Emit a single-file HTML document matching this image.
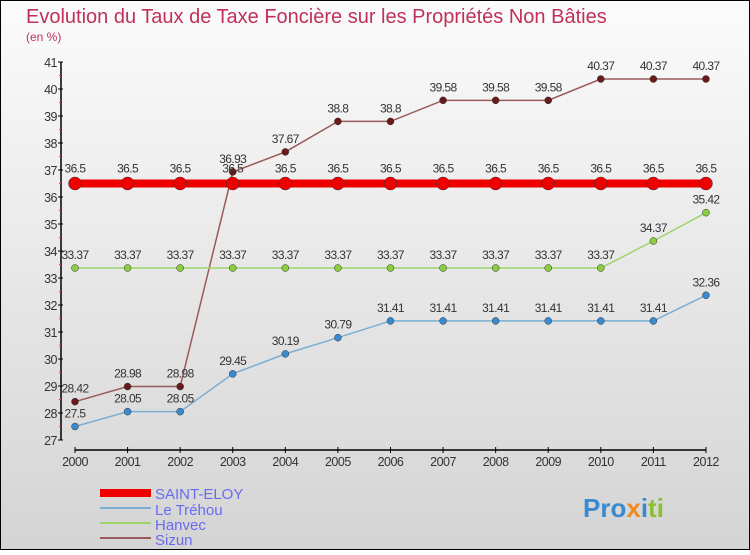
<!DOCTYPE html>
<html><head><meta charset="utf-8"><style>
body{margin:0}
#c{width:750px;height:550px;position:relative;font-family:"Liberation Sans",sans-serif}
</style></head><body>
<div id="c">
<svg id="s" width="750" height="550" xmlns="http://www.w3.org/2000/svg">
<defs><linearGradient id="bg" x1="0" y1="0" x2="0" y2="1"><stop offset="0" stop-color="#fbfbfb"/><stop offset="1" stop-color="#d4d4d4"/></linearGradient></defs>
<rect x="0.5" y="0.5" width="749" height="549" fill="url(#bg)" stroke="#000"/>
<text x="26" y="23" font-size="20" fill="#c0305a">Evolution du Taux de Taxe Foncière sur les Propriétés Non Bâties</text>
<text x="26" y="41" font-size="12" fill="#c0305a">(en %)</text>
<g id="axes"></g><g id="series"></g>
<g>
<rect x="100" y="489" width="51" height="8" fill="#e00"/>
<text x="155" y="499" font-size="15" fill="#6a6aef">SAINT-ELOY</text>
<line x1="100" y1="508" x2="151" y2="508" stroke="#7aaed4" stroke-width="2"/>
<text x="155" y="515" font-size="15" fill="#6a6aef">Le Tréhou</text>
<line x1="100" y1="523" x2="151" y2="523" stroke="#9ed46a" stroke-width="2"/>
<text x="155" y="530" font-size="15" fill="#6a6aef">Hanvec</text>
<line x1="100" y1="538" x2="151" y2="538" stroke="#9a5a5a" stroke-width="2"/>
<text x="155" y="545" font-size="15" fill="#6a6aef">Sizun</text>
</g>
<text x="583" y="517" font-size="26" font-weight="bold"><tspan fill="#3a8ad0">Pro</tspan><tspan fill="#f08a20">x</tspan><tspan fill="#3a8ad0">i</tspan><tspan fill="#8ac030">ti</tspan></text>
</svg>
</div>
<script>
const years=[2000,2001,2002,2003,2004,2005,2006,2007,2008,2009,2010,2011,2012];
const yTicks=[27,28,29,30,31,32,33,34,35,36,37,38,39,40,41];
const saintEloy=[36.5,36.5,36.5,36.5,36.5,36.5,36.5,36.5,36.5,36.5,36.5,36.5,36.5];
const leTrehou=[27.5,28.05,28.05,29.45,30.19,30.79,31.41,31.41,31.41,31.41,31.41,31.41,32.36];
const hanvec=[33.37,33.37,33.37,33.37,33.37,33.37,33.37,33.37,33.37,33.37,33.37,34.37,35.42];
const sizun=[28.42,28.98,28.98,36.93,37.67,38.8,38.8,39.58,39.58,39.58,40.37,40.37,40.37];
const NS="http://www.w3.org/2000/svg";
const xs=i=>75+i*52.58;
const ys=v=>440-(v-27)*27;
function mk(tag,attrs,parent,txt){const e=document.createElementNS(NS,tag);for(const k in attrs)e.setAttribute(k,attrs[k]);if(txt!==undefined)e.textContent=txt;parent.appendChild(e);return e;}
const ax=document.getElementById('axes');
let a=mk('line',{x1:61,y1:ys(41),x2:61,y2:ys(27),stroke:'#000','stroke-width':1.5},ax);


a=mk('line',{x1:xs(0),y1:450,x2:xs(12),y2:450,stroke:'#000','stroke-width':1.5},ax);


yTicks.forEach(v=>{
 mk('line',{x1:58,y1:ys(v),x2:63,y2:ys(v),stroke:'#000'},ax);
 if(v<41) mk('line',{x1:59,y1:ys(v+0.5),x2:61,y2:ys(v+0.5),stroke:'#f33'},ax);
 const t=mk('text',{x:57,y:ys(v)+5,'font-size':12.5,fill:'#333','text-anchor':'end','letter-spacing':'-0.5'},ax,String(v));
 
 
});
years.forEach((y,i)=>{
 mk('line',{x1:xs(i),y1:447,x2:xs(i),y2:453,stroke:'#000'},ax);
 const t=mk('text',{x:xs(i),y:466,'font-size':12.5,fill:'#333','text-anchor':'middle','letter-spacing':'-0.5'},ax,String(y));
 
 
});
const sg=document.getElementById('series');
function series(name,data,color,fill,lw,r,labelDy){
 const g=mk('g',{},sg);
 
 
 mk('polyline',{points:data.map((v,i)=>xs(i)+','+ys(v)).join(' '),fill:'none',stroke:color,'stroke-width':lw},g);
 data.forEach((v,i)=>{
  const c=mk('circle',{cx:xs(i),cy:ys(v),r:r,fill:fill,stroke:'#333','stroke-width':0.5},g);
  
  
  const t=mk('text',{x:xs(i),y:ys(v)+labelDy,'font-size':12,fill:'#333','text-anchor':'middle','letter-spacing':'-0.6'},g,String(v));
  
  
 });
}
series('sizun',sizun,'#9a5a5a','#6a1a1a',1.5,3.5,-9);
series('hanvec',hanvec,'#9ed46a','#8ccc40',1.5,3.5,-9);
series('le-trehou',leTrehou,'#7aaed4','#3a8ad0',1.5,3.5,-9);
series('saint-eloy',saintEloy,'#e00','#e00',8,6.5,-11);
</script>
</body></html>
